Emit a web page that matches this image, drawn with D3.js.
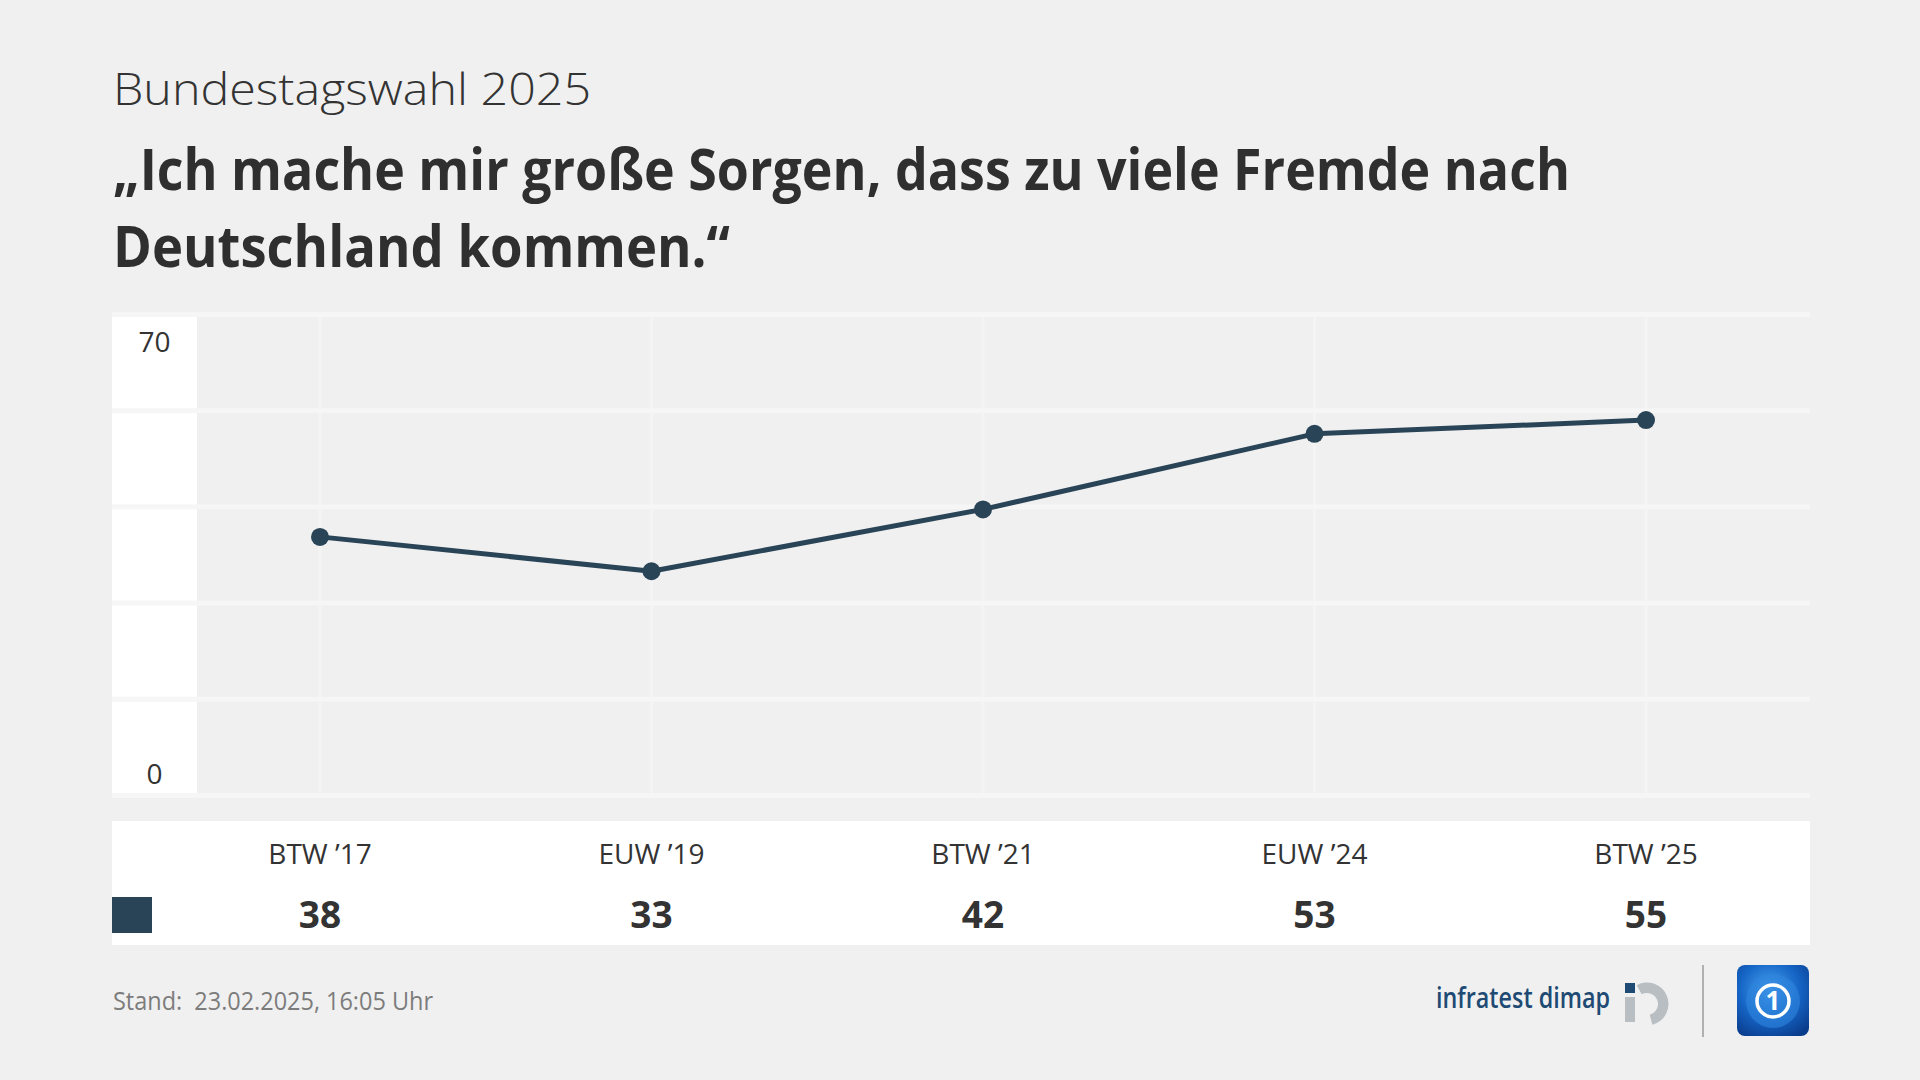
<!DOCTYPE html>
<html>
<head>
<meta charset="utf-8">
<script src="https://cdn.jsdelivr.net/npm/d3@7"></script>
<style>
  html, body { margin: 0; padding: 0; background: #f0f0f0; }
  svg { display: block; }
  text { white-space: pre; }
</style>
</head>
<body>
<svg id="chart" width="1920" height="1080"></svg>
<script>
const categories = ["BTW \u201917", "EUW \u201919", "BTW \u201921", "EUW \u201924", "BTW \u201925"];
const values = [38, 33, 42, 53, 55];
const yTicks = [0, 14, 28, 42, 56, 70];
const yTickLabels = [0, 70];
const subtitle = "Bundestagswahl 2025";
const titleLines = ["\u201EIch mache mir gro\u00DFe Sorgen, dass zu viele Fremde nach", "Deutschland kommen.\u201C"];
const footer = "Stand:  23.02.2025, 16:05 Uhr";

const FONT = "'Open Sans', 'Noto Sans', sans-serif";
const lineColor = "#2a4457";
const textColor = "#333333";

const svg = d3.select("#chart");
svg.append("rect").attr("width", 1920).attr("height", 1080).attr("fill", "#f0f0f0");

// Headings
svg.append("text").attr("x", 113).attr("y", 105)
  .attr("font-family", FONT).attr("font-weight", 300).attr("font-size", 45)
  .attr("fill", textColor).attr("textLength", 478).attr("lengthAdjust", "spacingAndGlyphs")
  .text(subtitle);
const titleWidths = [1457, 617];
titleLines.forEach((t, i) => {
  svg.append("text").attr("x", 113).attr("y", 190 + i * 77)
    .attr("font-family", FONT).attr("font-weight", 700).attr("font-size", 57)
    .attr("fill", "#2f2f2f").attr("textLength", titleWidths[i]).attr("lengthAdjust", "spacingAndGlyphs")
    .text(t);
});

// Scales
const plotLeft = 112, plotRight = 1810;
const x = d3.scalePoint().domain(categories).range([320, 1646]);
const y = d3.scaleLinear().domain([0, 70]).range([798, 317]);

// Y-axis white panel
svg.append("rect").attr("x", plotLeft).attr("y", y(70)).attr("width", 85).attr("height", y(0) - y(70))
  .attr("fill", "#ffffff");

// vertical grid lines
svg.append("g").selectAll("rect").data(categories).join("rect")
  .attr("x", d => x(d) - 1.5).attr("width", 3)
  .attr("y", y(70)).attr("height", y(0) - y(70))
  .attr("fill", "#f4f4f4");

// horizontal grid lines
svg.append("g").selectAll("rect").data(yTicks).join("rect")
  .attr("x", plotLeft).attr("width", plotRight - plotLeft)
  .attr("y", d => y(d) - 5).attr("height", 5)
  .attr("fill", "#f6f6f6");

// Y labels
svg.append("g").selectAll("text").data(yTickLabels).join("text")
  .attr("x", 154.5)
  .attr("y", d => d === 70 ? y(d) + 35 : y(d) - 14)
  .attr("text-anchor", "middle")
  .attr("font-family", FONT).attr("font-size", 28).attr("fill", textColor)
  .text(d => d);

// Line
const line = d3.line().x((d, i) => x(categories[i])).y(d => y(d));
svg.append("path").datum(values).attr("d", line)
  .attr("fill", "none").attr("stroke", lineColor).attr("stroke-width", 5)
  .attr("stroke-linejoin", "round");
svg.append("g").selectAll("circle").data(values).join("circle")
  .attr("cx", (d, i) => x(categories[i])).attr("cy", d => y(d)).attr("r", 9)
  .attr("fill", lineColor);

// Table
svg.append("rect").attr("x", plotLeft).attr("y", 821).attr("width", plotRight - plotLeft).attr("height", 124)
  .attr("fill", "#ffffff");
svg.append("g").selectAll("text").data(categories).join("text")
  .attr("x", d => x(d)).attr("y", 864)
  .attr("text-anchor", "middle").attr("font-family", FONT).attr("font-size", 28)
  .attr("fill", textColor).text(d => d);
svg.append("g").selectAll("text").data(values).join("text")
  .attr("x", (d, i) => x(categories[i])).attr("y", 928)
  .attr("text-anchor", "middle").attr("font-family", FONT).attr("font-weight", 700).attr("font-size", 37)
  .attr("fill", textColor).text(d => d);
svg.append("rect").attr("x", plotLeft).attr("y", 897).attr("width", 40).attr("height", 36).attr("fill", lineColor);

// Footer
svg.append("text").attr("x", 113).attr("y", 1010)
  .attr("font-family", FONT).attr("font-size", 26).attr("fill", "#7c7c7c")
  .attr("textLength", 320).attr("lengthAdjust", "spacingAndGlyphs")
  .text(footer);

// infratest dimap logo
svg.append("text").attr("x", 1436).attr("y", 1008)
  .attr("font-family", FONT).attr("font-weight", 600).attr("font-size", 28).attr("fill", "#1e4a73")
  .attr("textLength", 174).attr("lengthAdjust", "spacingAndGlyphs")
  .text("infratest dimap");
const logo = svg.append("g").attr("transform", "translate(1647,1004)");
logo.append("path").attr("d", d3.arc()({innerRadius: 11, outerRadius: 21.5, startAngle: -0.5, endAngle: Math.PI - 0.25}))
  .attr("fill", "#b9bec3");
logo.append("rect").attr("x", -22).attr("y", -7).attr("width", 10).attr("height", 25).attr("fill", "#b9bec3");
logo.append("rect").attr("x", -22).attr("y", -21).attr("width", 10).attr("height", 10).attr("fill", "#1e4a73");

// separator
svg.append("rect").attr("x", 1702).attr("y", 965).attr("width", 2).attr("height", 72).attr("fill", "#b0b0b0");

// tagesschau logo
const defs = svg.append("defs");
const g1 = defs.append("radialGradient").attr("id", "ts").attr("cx", "45%").attr("cy", "35%").attr("r", "75%");
g1.append("stop").attr("offset", "0%").attr("stop-color", "#4aa3ee");
g1.append("stop").attr("offset", "55%").attr("stop-color", "#1565c6");
g1.append("stop").attr("offset", "100%").attr("stop-color", "#0a3c8c");
const ts = svg.append("g").attr("transform", "translate(1773,1001)");
ts.append("rect").attr("x", -36).attr("y", -36).attr("width", 72).attr("height", 71).attr("rx", 8).attr("fill", "url(#ts)");
ts.append("circle").attr("r", 27).attr("fill", "#2f86dd").attr("opacity", 0.6);
ts.append("circle").attr("r", 16).attr("fill", "none").attr("stroke", "#ffffff").attr("stroke-width", 3.5);
ts.append("text").attr("y", 9).attr("text-anchor", "middle").attr("font-family", FONT).attr("font-weight", 700)
  .attr("font-size", 26).attr("fill", "#ffffff").text("1");
</script>
</body>
</html>
